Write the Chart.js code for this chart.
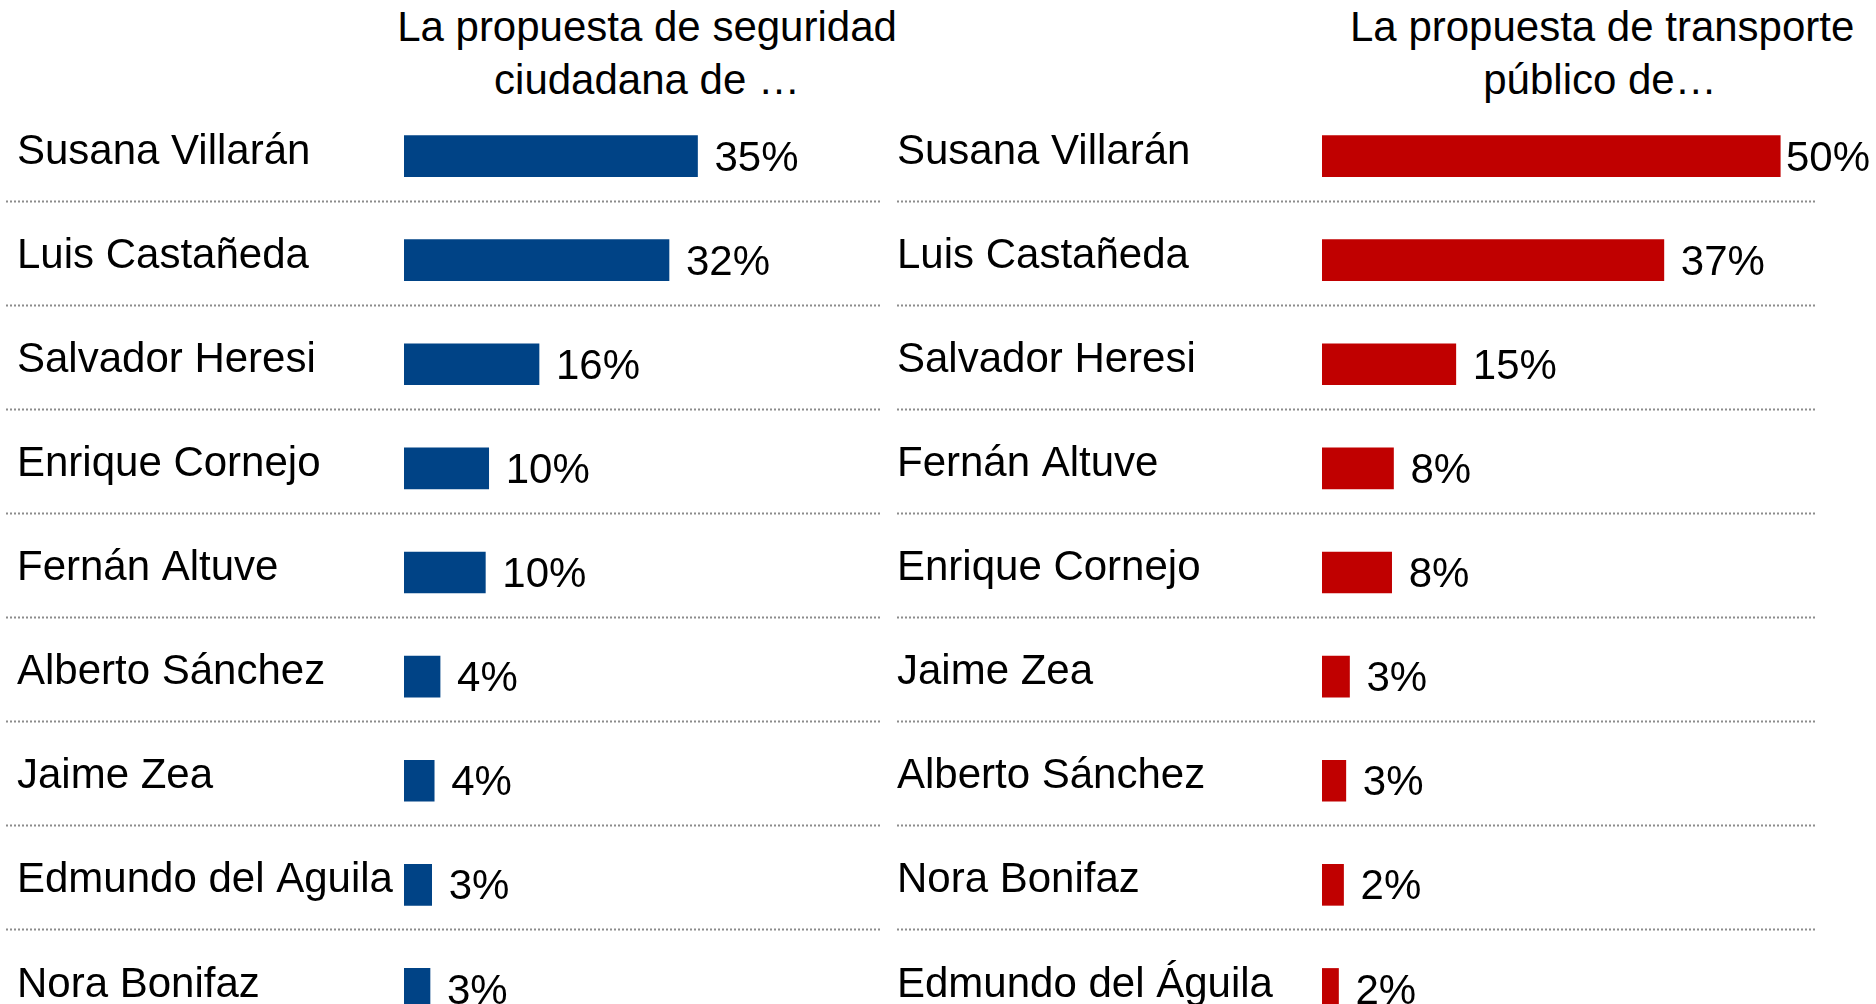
<!DOCTYPE html>
<html lang="es">
<head>
<meta charset="UTF-8">
<title>Propuestas de los candidatos</title>
<script src="https://cdn.jsdelivr.net/npm/chart.js@4"></script>
<style>
    html, body { margin: 0; padding: 0; background: #fff; overflow: hidden; width: 1876px; height: 1004px; }
    .titulo {
        position: absolute; top: 0; font-family: "Liberation Sans", Arial, sans-serif;
        font-size: 42px; line-height: 53px; color: #000; text-align: center; white-space: nowrap;
    }
    canvas { position: absolute; top: 0; }
</style>
</head>
<body>
<div class="titulo" id="tituloSeguridad" style="left:397px; width:500px;">La propuesta de seguridad<br>ciudadana de …</div>
<div class="titulo" id="tituloTransporte" style="left:1350px; width:500px;">La propuesta de transporte<br>público de…</div>
<canvas id="graficoSeguridad" width="890" height="1068" style="left:0px;"></canvas>
<canvas id="graficoTransporte" width="986" height="1068" style="left:890px;"></canvas>
<script>
// Datos.
const candidatosSeguridad = ["Susana Villarán", "Luis Castañeda", "Salvador Heresi", "Enrique Cornejo", "Fernán Altuve", "Alberto Sánchez", "Jaime Zea", "Edmundo del Aguila", "Nora Bonifaz"];
const valoresSeguridad = [35.0, 31.6, 16.1, 10.1, 9.7, 4.3, 3.6, 3.3, 3.1];

const candidatosTransporte = ["Susana Villarán", "Luis Castañeda", "Salvador Heresi", "Fernán Altuve", "Enrique Cornejo", "Jaime Zea", "Alberto Sánchez", "Nora Bonifaz", "Edmundo del Águila"];
const valoresTransporte = [50.0, 37.3, 14.6, 7.8, 7.6, 3.0, 2.6, 2.35, 1.8];

const FUENTE = '"Liberation Sans", Arial, sans-serif';

// Plugin: líneas punteadas entre filas
const lineasPunteadas = {
    id: 'lineasPunteadas',
    beforeDatasetsDraw(chart, args, opts) {
        const ctx = chart.ctx;
        const y = chart.scales.y;
        ctx.save();
        ctx.strokeStyle = '#8c8c8c';
        ctx.lineWidth = 2;
        ctx.setLineDash([2, 2]);
        for (let i = 0; i < chart.data.labels.length; i++) {
            let py = Math.round(y.getPixelForValue(i) + 44.5) + 0.5;
            ctx.beginPath();
            ctx.moveTo(opts.desde, py);
            ctx.lineTo(chart.chartArea.right, py);
            ctx.stroke();
        }
        ctx.restore();
    }
};

// Plugin: etiquetas de porcentaje al final de cada barra
const etiquetasValor = {
    id: 'etiquetasValor',
    afterDatasetsDraw(chart) {
        const ctx = chart.ctx;
        const meta = chart.getDatasetMeta(0);
        const datos = chart.data.datasets[0].data;
        ctx.save();
        ctx.font = '42px ' + FUENTE;
        ctx.fillStyle = '#000';
        ctx.textBaseline = 'middle';
        ctx.textAlign = 'left';
        meta.data.forEach((barra, i) => {
            let texto = Math.round(datos[i]) + '%';
            let ancho = ctx.measureText(texto).width;
            let x = Math.min(barra.x + 17, chart.width - ancho - 6);
            ctx.fillText(texto, x, barra.y + 3);
        });
        ctx.restore();
    }
};

function crearGrafico(idCanvas, etiquetas, valores, color, maximo, izq, anchoEje, der, inicioLinea) {
    let ctx = document.getElementById(idCanvas).getContext('2d');
    return new Chart(ctx, {
        type: 'bar',
        data: {
            labels: etiquetas,
            datasets: [{
                data: valores,
                backgroundColor: color,
                borderWidth: 0,
                barThickness: 41
            }]
        },
        options: {
            indexAxis: 'y',
            responsive: false,
            animation: false,
            devicePixelRatio: 1,
            layout: { padding: { left: izq, right: der, top: 104, bottom: 27 } },
            plugins: {
                legend: { display: false },
                tooltip: { enabled: false },
                lineasPunteadas: { desde: inicioLinea }
            },
            scales: {
                x: { display: false, min: 0, max: maximo },
                y: {
                    grid: { display: false },
                    border: { display: false },
                    afterFit: (escala) => { escala.width = anchoEje; },
                    ticks: {
                        crossAlign: 'far',
                        padding: 0,
                        labelOffset: -4,
                        color: '#000',
                        font: { family: FUENTE, size: 42 }
                    }
                }
            }
        },
        plugins: [lineasPunteadas, etiquetasValor]
    });
}

crearGrafico('graficoSeguridad', candidatosSeguridad, valoresSeguridad, '#004386', 57, 17, 387, 8, 6);
crearGrafico('graficoTransporte', candidatosTransporte, valoresTransporte, '#c00000', 53.9, 7, 425, 60, 7);
</script>
</body>
</html>
